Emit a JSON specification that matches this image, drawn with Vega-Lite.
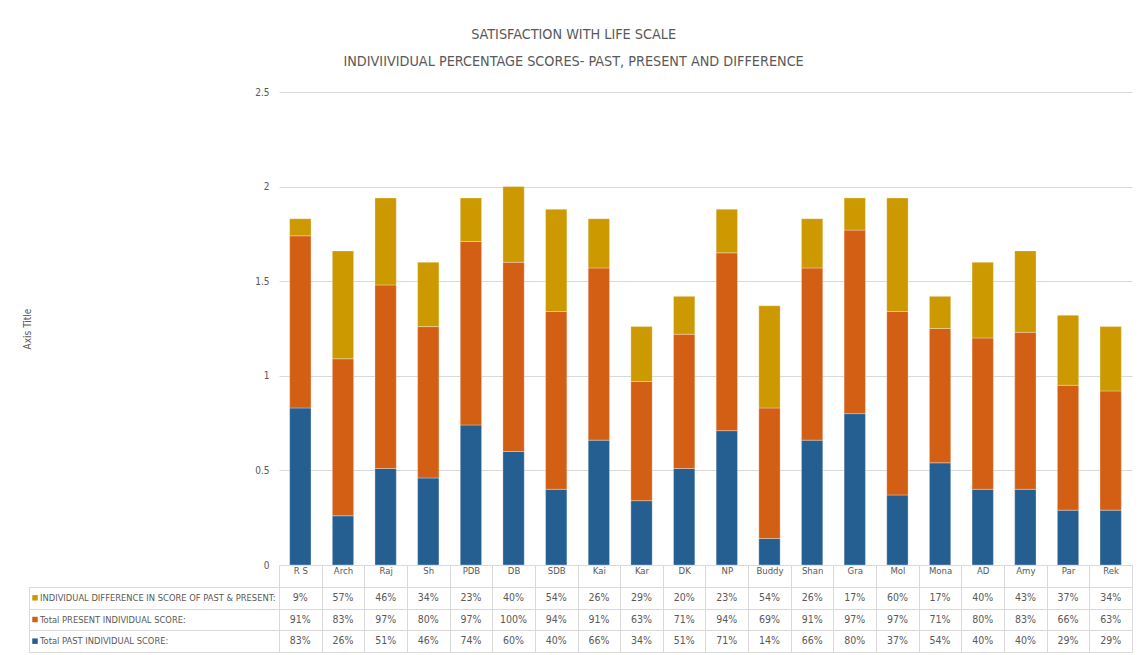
{
  "$schema": "https://vega.github.io/schema/vega-lite/v6.json",
  "padding": {"left": 22, "top": 27, "right": 10, "bottom": 0},
  "background": "white",
  "title": {
    "text": ["SATISFACTION WITH LIFE SCALE", "INDIVIIVIDUAL PERCENTAGE SCORES- PAST, PRESENT AND DIFFERENCE"],
    "fontSize": 14.3,
    "lineHeight": 27,
    "font": "DejaVu Sans Condensed, Roboto, sans-serif",
    "fontWeight": "normal",
    "color": "#595959",
    "anchor": "middle",
    "dx": -4,
    "offset": 18
  },
  "datasets": {
    "scores": [
      {"name": "R S", "series": "Total PAST INDIVIDUAL SCORE:", "k": 1, "value": 0.83},
      {"name": "Arch", "series": "Total PAST INDIVIDUAL SCORE:", "k": 1, "value": 0.26},
      {"name": "Raj", "series": "Total PAST INDIVIDUAL SCORE:", "k": 1, "value": 0.51},
      {"name": "Sh", "series": "Total PAST INDIVIDUAL SCORE:", "k": 1, "value": 0.46},
      {"name": "PDB", "series": "Total PAST INDIVIDUAL SCORE:", "k": 1, "value": 0.74},
      {"name": "DB", "series": "Total PAST INDIVIDUAL SCORE:", "k": 1, "value": 0.60},
      {"name": "SDB", "series": "Total PAST INDIVIDUAL SCORE:", "k": 1, "value": 0.40},
      {"name": "Kai", "series": "Total PAST INDIVIDUAL SCORE:", "k": 1, "value": 0.66},
      {"name": "Kar", "series": "Total PAST INDIVIDUAL SCORE:", "k": 1, "value": 0.34},
      {"name": "DK", "series": "Total PAST INDIVIDUAL SCORE:", "k": 1, "value": 0.51},
      {"name": "NP", "series": "Total PAST INDIVIDUAL SCORE:", "k": 1, "value": 0.71},
      {"name": "Buddy", "series": "Total PAST INDIVIDUAL SCORE:", "k": 1, "value": 0.14},
      {"name": "Shan", "series": "Total PAST INDIVIDUAL SCORE:", "k": 1, "value": 0.66},
      {"name": "Gra", "series": "Total PAST INDIVIDUAL SCORE:", "k": 1, "value": 0.80},
      {"name": "Mol", "series": "Total PAST INDIVIDUAL SCORE:", "k": 1, "value": 0.37},
      {"name": "Mona", "series": "Total PAST INDIVIDUAL SCORE:", "k": 1, "value": 0.54},
      {"name": "AD", "series": "Total PAST INDIVIDUAL SCORE:", "k": 1, "value": 0.40},
      {"name": "Amy", "series": "Total PAST INDIVIDUAL SCORE:", "k": 1, "value": 0.40},
      {"name": "Par", "series": "Total PAST INDIVIDUAL SCORE:", "k": 1, "value": 0.29},
      {"name": "Rek", "series": "Total PAST INDIVIDUAL SCORE:", "k": 1, "value": 0.29},
      {"name": "R S", "series": "Total PRESENT INDIVIDUAL SCORE:", "k": 2, "value": 0.91},
      {"name": "Arch", "series": "Total PRESENT INDIVIDUAL SCORE:", "k": 2, "value": 0.83},
      {"name": "Raj", "series": "Total PRESENT INDIVIDUAL SCORE:", "k": 2, "value": 0.97},
      {"name": "Sh", "series": "Total PRESENT INDIVIDUAL SCORE:", "k": 2, "value": 0.80},
      {"name": "PDB", "series": "Total PRESENT INDIVIDUAL SCORE:", "k": 2, "value": 0.97},
      {"name": "DB", "series": "Total PRESENT INDIVIDUAL SCORE:", "k": 2, "value": 1.00},
      {"name": "SDB", "series": "Total PRESENT INDIVIDUAL SCORE:", "k": 2, "value": 0.94},
      {"name": "Kai", "series": "Total PRESENT INDIVIDUAL SCORE:", "k": 2, "value": 0.91},
      {"name": "Kar", "series": "Total PRESENT INDIVIDUAL SCORE:", "k": 2, "value": 0.63},
      {"name": "DK", "series": "Total PRESENT INDIVIDUAL SCORE:", "k": 2, "value": 0.71},
      {"name": "NP", "series": "Total PRESENT INDIVIDUAL SCORE:", "k": 2, "value": 0.94},
      {"name": "Buddy", "series": "Total PRESENT INDIVIDUAL SCORE:", "k": 2, "value": 0.69},
      {"name": "Shan", "series": "Total PRESENT INDIVIDUAL SCORE:", "k": 2, "value": 0.91},
      {"name": "Gra", "series": "Total PRESENT INDIVIDUAL SCORE:", "k": 2, "value": 0.97},
      {"name": "Mol", "series": "Total PRESENT INDIVIDUAL SCORE:", "k": 2, "value": 0.97},
      {"name": "Mona", "series": "Total PRESENT INDIVIDUAL SCORE:", "k": 2, "value": 0.71},
      {"name": "AD", "series": "Total PRESENT INDIVIDUAL SCORE:", "k": 2, "value": 0.80},
      {"name": "Amy", "series": "Total PRESENT INDIVIDUAL SCORE:", "k": 2, "value": 0.83},
      {"name": "Par", "series": "Total PRESENT INDIVIDUAL SCORE:", "k": 2, "value": 0.66},
      {"name": "Rek", "series": "Total PRESENT INDIVIDUAL SCORE:", "k": 2, "value": 0.63},
      {"name": "R S", "series": "INDIVIDUAL DIFFERENCE IN  SCORE OF PAST & PRESENT:", "k": 3, "value": 0.09},
      {"name": "Arch", "series": "INDIVIDUAL DIFFERENCE IN  SCORE OF PAST & PRESENT:", "k": 3, "value": 0.57},
      {"name": "Raj", "series": "INDIVIDUAL DIFFERENCE IN  SCORE OF PAST & PRESENT:", "k": 3, "value": 0.46},
      {"name": "Sh", "series": "INDIVIDUAL DIFFERENCE IN  SCORE OF PAST & PRESENT:", "k": 3, "value": 0.34},
      {"name": "PDB", "series": "INDIVIDUAL DIFFERENCE IN  SCORE OF PAST & PRESENT:", "k": 3, "value": 0.23},
      {"name": "DB", "series": "INDIVIDUAL DIFFERENCE IN  SCORE OF PAST & PRESENT:", "k": 3, "value": 0.40},
      {"name": "SDB", "series": "INDIVIDUAL DIFFERENCE IN  SCORE OF PAST & PRESENT:", "k": 3, "value": 0.54},
      {"name": "Kai", "series": "INDIVIDUAL DIFFERENCE IN  SCORE OF PAST & PRESENT:", "k": 3, "value": 0.26},
      {"name": "Kar", "series": "INDIVIDUAL DIFFERENCE IN  SCORE OF PAST & PRESENT:", "k": 3, "value": 0.29},
      {"name": "DK", "series": "INDIVIDUAL DIFFERENCE IN  SCORE OF PAST & PRESENT:", "k": 3, "value": 0.20},
      {"name": "NP", "series": "INDIVIDUAL DIFFERENCE IN  SCORE OF PAST & PRESENT:", "k": 3, "value": 0.23},
      {"name": "Buddy", "series": "INDIVIDUAL DIFFERENCE IN  SCORE OF PAST & PRESENT:", "k": 3, "value": 0.54},
      {"name": "Shan", "series": "INDIVIDUAL DIFFERENCE IN  SCORE OF PAST & PRESENT:", "k": 3, "value": 0.26},
      {"name": "Gra", "series": "INDIVIDUAL DIFFERENCE IN  SCORE OF PAST & PRESENT:", "k": 3, "value": 0.17},
      {"name": "Mol", "series": "INDIVIDUAL DIFFERENCE IN  SCORE OF PAST & PRESENT:", "k": 3, "value": 0.60},
      {"name": "Mona", "series": "INDIVIDUAL DIFFERENCE IN  SCORE OF PAST & PRESENT:", "k": 3, "value": 0.17},
      {"name": "AD", "series": "INDIVIDUAL DIFFERENCE IN  SCORE OF PAST & PRESENT:", "k": 3, "value": 0.40},
      {"name": "Amy", "series": "INDIVIDUAL DIFFERENCE IN  SCORE OF PAST & PRESENT:", "k": 3, "value": 0.43},
      {"name": "Par", "series": "INDIVIDUAL DIFFERENCE IN  SCORE OF PAST & PRESENT:", "k": 3, "value": 0.37},
      {"name": "Rek", "series": "INDIVIDUAL DIFFERENCE IN  SCORE OF PAST & PRESENT:", "k": 3, "value": 0.34}
    ],
    "seriesList": [
      {"series": "INDIVIDUAL DIFFERENCE IN  SCORE OF PAST & PRESENT:"},
      {"series": "Total PRESENT INDIVIDUAL SCORE:"},
      {"series": "Total PAST INDIVIDUAL SCORE:"}
    ]
  },
  "columns": 2,
  "spacing": {"row": 22, "column": 0},
  "bounds": "flush",
  "config": {
    "font": "DejaVu Sans Condensed, Roboto, sans-serif",
    "view": {"stroke": "#d9d9d9"},
    "axis": {"labelColor": "#595959", "titleColor": "#595959", "labelFont": "DejaVu Sans Condensed, Roboto, sans-serif", "titleFont": "DejaVu Sans Condensed, Roboto, sans-serif"}
  },
  "resolve": {"scale": {"color": "shared"}},
  "concat": [
    {
      "width": 250,
      "height": 473,
      "view": {"stroke": null},
      "data": {"values": [{"t": ""}]},
      "mark": {"type": "text"},
      "encoding": {"text": {"field": "t"}}
    },
    {
      "width": 853,
      "height": 473,
      "view": {"stroke": null},
      "data": {"name": "scores"},
      "mark": {"type": "bar", "width": {"band": 0.5}, "stroke": "white", "strokeWidth": 0.5, "strokeOpacity": 0.6},
      "encoding": {
        "x": {
          "field": "name", "type": "nominal", "sort": null,
          "scale": {"type": "band", "paddingInner": 0, "paddingOuter": 0},
          "axis": {"title": null, "orient": "bottom", "labelAngle": 0, "labelFontSize": 9.5, "labelPadding": -17, "labelBaseline": "middle",
                   "tickBand": "extent", "tickSize": 22, "tickColor": "#d9d9d9", "domainColor": "#d9d9d9", "grid": false}
        },
        "y": {
          "field": "value", "type": "quantitative", "stack": "zero",
          "scale": {"domain": [0, 2.5], "nice": false},
          "axis": {"title": "Axis Title", "titleFontSize": 10, "titleFontWeight": "normal", "titlePadding": 222,
                   "values": [0, 0.5, 1, 1.5, 2, 2.5], "labelFontSize": 10, "labelPadding": 10, "ticks": false, "domain": false,
                   "gridColor": "#d9d9d9", "labelExpr": "datum.value"}
        },
        "color": {
          "field": "series", "type": "nominal",
          "scale": {"domain": ["Total PAST INDIVIDUAL SCORE:", "Total PRESENT INDIVIDUAL SCORE:", "INDIVIDUAL DIFFERENCE IN  SCORE OF PAST & PRESENT:"],
                    "range": ["#255E91", "#D35F14", "#CC9900"]},
          "legend": null
        },
        "order": {"field": "k", "type": "quantitative"}
      }
    },
    {
      "width": 250,
      "height": 65,
      "data": {"name": "seriesList"},
      "encoding": {
        "y": {
          "field": "series", "type": "nominal",
          "sort": ["INDIVIDUAL DIFFERENCE IN  SCORE OF PAST & PRESENT:", "Total PRESENT INDIVIDUAL SCORE:", "Total PAST INDIVIDUAL SCORE:"],
          "axis": {"title": null, "labels": false, "ticks": false, "domain": false, "grid": true, "tickBand": "extent", "gridColor": "#d9d9d9"}
        }
      },
      "layer": [
        {
          "mark": {"type": "point", "shape": "square", "filled": true, "size": 30, "opacity": 1},
          "encoding": {
            "x": {"datum": 0.024, "type": "quantitative", "scale": {"domain": [0, 1]}, "axis": null},
            "color": {"field": "series", "type": "nominal", "legend": null}
          }
        },
        {
          "mark": {"type": "text", "align": "left", "baseline": "middle", "fontSize": 9.3, "color": "#595959"},
          "encoding": {
            "x": {"datum": 0.044, "type": "quantitative", "scale": {"domain": [0, 1]}, "axis": null},
            "text": {"field": "series"}
          }
        }
      ]
    },
    {
      "width": 853,
      "height": 65,
      "data": {"name": "scores"},
      "mark": {"type": "text", "fontSize": 10.5, "color": "#595959", "baseline": "middle"},
      "encoding": {
        "x": {"field": "name", "type": "nominal", "sort": null,
              "scale": {"type": "band", "paddingInner": 0, "paddingOuter": 0},
              "axis": {"title": null, "labels": false, "ticks": false, "domain": false, "grid": true, "tickBand": "extent", "gridColor": "#d9d9d9"}},
        "y": {"field": "series", "type": "nominal",
              "sort": ["INDIVIDUAL DIFFERENCE IN  SCORE OF PAST & PRESENT:", "Total PRESENT INDIVIDUAL SCORE:", "Total PAST INDIVIDUAL SCORE:"],
              "axis": {"title": null, "labels": false, "ticks": false, "domain": false, "grid": true, "tickBand": "extent", "gridColor": "#d9d9d9"}},
        "text": {"field": "value", "type": "quantitative", "format": ".0%"}
      }
    }
  ]
}
